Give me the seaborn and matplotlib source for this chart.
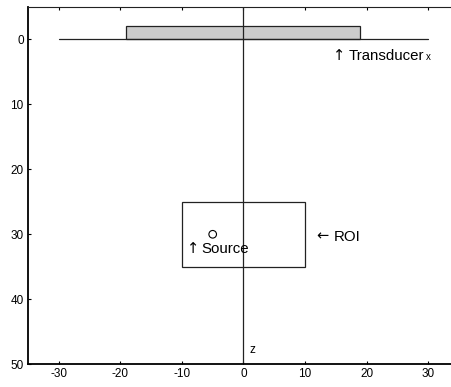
import seaborn as sns
import matplotlib.pyplot as plt
from matplotlib.patches import Rectangle

# geometry of the setup (mm)
axis_x = [-30, 30]          # lateral axis drawn at depth 0
axis_z = [0, 0]
transducer_x = [-19, 19]    # transducer aperture
transducer_z = [-2, 0]
roi_x = [-10, 10]
roi_z = [25, 35]
source_x = [-5]
source_z = [30]

x_ticks = [-30, -20, -10, 0, 10, 20, 30]
y_ticks = [0, 10, 20, 30, 40, 50]

sns.set_style("ticks")
plt.rcParams["font.family"] = ["Liberation Sans", "DejaVu Sans"]
plt.rcParams["axes.unicode_minus"] = False
plt.rcParams["text.color"] = "black"
plt.rcParams["xtick.color"] = "black"
plt.rcParams["ytick.color"] = "black"

fig = plt.figure(figsize=(4.51, 3.87), dpi=100)
ax = fig.add_axes([0.062, 0.059, 0.938, 0.923])

# lateral axis and depth axis
sns.lineplot(x=axis_x, y=axis_z, ax=ax, color="#222222", linewidth=0.9)
ax.axvline(0, color="#222222", linewidth=0.9)

# transducer and ROI boxes
ax.add_patch(Rectangle((transducer_x[0], transducer_z[0]),
                       transducer_x[1] - transducer_x[0],
                       transducer_z[1] - transducer_z[0],
                       facecolor="#cccccc", edgecolor="#222222", linewidth=0.9))
ax.add_patch(Rectangle((roi_x[0], roi_z[0]), roi_x[1] - roi_x[0], roi_z[1] - roi_z[0],
                       facecolor="none", edgecolor="#222222", linewidth=0.9))

# point source
sns.scatterplot(x=source_x, y=source_z, ax=ax, marker="o", s=30,
                facecolor="none", edgecolor="black", linewidth=0.8)

# labels: arrows drawn in DejaVu Sans (taller glyphs), words in Liberation Sans
arrow_kw = dict(fontsize=10.5, va="baseline", ha="left", family="DejaVu Sans")
word_kw = dict(fontsize=10.8, va="baseline", ha="left")
ax.text(14.5, 3.2, "\u2191", **arrow_kw)
ax.text(17.1, 3.2, "Transducer", **word_kw)
ax.text(29.6, 3.2, "x", fontsize=7, va="baseline", ha="left")
ax.text(-9.2, 32.9, "\u2191", **arrow_kw)
ax.text(-6.8, 32.9, "Source", **word_kw)
ax.text(11.8, 31.0, "\u2190", **arrow_kw)
ax.text(14.7, 31.0, "ROI", **word_kw)
ax.text(0.9, 48.3, "z", fontsize=8.5, va="baseline", ha="left")

ax.set_xlim(-35, 33.7)
ax.set_ylim(50, -5)
ax.set_xticks(x_ticks)
ax.set_yticks(y_ticks)
ax.tick_params(direction="in", length=2.5, width=0.8, labelsize=8.5,
               top=True, bottom=True, left=True, pad=3)
ax.spines["right"].set_visible(False)
for side in ["left", "bottom"]:
    ax.spines[side].set_linewidth(1.3)
    ax.spines[side].set_color("black")
ax.spines["top"].set_linewidth(0.8)
ax.spines["top"].set_color("#222222")

fig.savefig("out.png", dpi=100)
